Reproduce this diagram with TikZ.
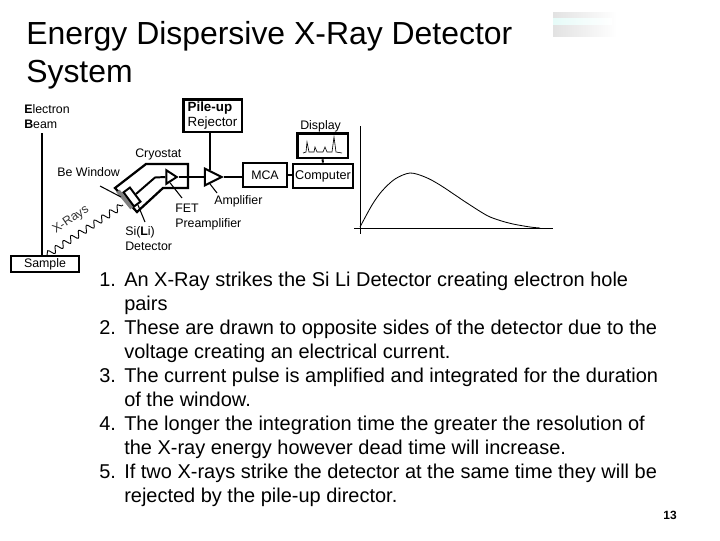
\documentclass[tikz,border=0pt]{standalone}
\usepackage{fontspec}
\setmainfont{Liberation Sans}
\setsansfont{Liberation Sans}
\usetikzlibrary{shapes.geometric,decorations.pathmorphing}
\definecolor{logog}{HTML}{E2E2E2}
\definecolor{logoc}{HTML}{E6FBF8}
\tikzset{
  titletxt/.style = {font=\fontsize{22.7}{27.4}\selectfont, align=left, inner sep=0pt, anchor=north west},
  itemtxt/.style  = {font=\fontsize{14.2}{17}\selectfont, align=left, inner sep=0pt, anchor=north west},
  lbl/.style      = {font=\fontsize{8.8}{10.8}\selectfont, inner sep=0pt, align=left},
  boxb/.style     = {draw=black, line width=2pt, inner sep=0pt},
  wire/.style     = {draw=black, line width=2pt},
  leader/.style   = {draw=black, line width=0.75pt},
  amptri/.style   = {isosceles triangle, isosceles triangle stretches=true, draw=black,
                     line width=1.4pt, inner sep=0pt, fill=white},
}
\begin{document}
\begin{tikzpicture}[x=0.025cm,y=-0.025cm]
  \useasboundingbox (0,0) rectangle (720,540);

  % title and logo
  \node[titletxt] (title) at (26,21) {Energy Dispersive X-Ray Detector\\System};
  \shade[left color=logog, right color=white, draw=none] (553,12) rectangle (617,36);
  \shade[left color=logoc, right color=white, draw=none] (553,18) rectangle (612,24);

  % sample and beam
  \node[lbl, anchor=north west] (beamlbl) at (24,104) {\textbf{E}lectron\\\textbf{B}eam};
  \node[boxb, minimum width=1.7cm, minimum height=0.4cm, font=\fontsize{8.8}{10}\selectfont] (sample) at (45,264) {Sample};
  \coordinate (beamtop) at (42,133);
  \draw[wire] (beamtop) -- (beamtop |- sample.north);
  \coordinate (rayfrom) at (47,255);
  \coordinate (rayto) at (123,205);
  \draw[black, line width=0.65pt, decorate, decoration={snake, amplitude=2.3pt, segment length=6.6pt}] (rayfrom) -- (rayto);
  \node[lbl, rotate=34, text=black!80] (rays) at (71,220) {X-Rays};

  % cryostat
  \draw[wire, line width=1.6pt] (115,188) -- (146,164) -- (188,164) -- (188,188) -- (163,188) -- (137,212) -- cycle;
  \draw[gray, line width=3pt] (118,191) -- (132,208);
  \node[draw=black, line width=1.4pt, fill=white, rotate=-53, minimum width=0.44cm, minimum height=0.2cm, inner sep=0pt] (detector) at (132,197) {};
  \node[amptri, minimum width=0.34cm, minimum height=0.26cm] (fet) at (170,177) {};
  \node[amptri, minimum width=0.42cm, minimum height=0.42cm] (amp) at (210,177) {};
  \coordinate (bend) at (155,177.5);
  \draw[wire, line width=1.4pt] (detector.north) -- (bend) -- (fet.west);
  \draw[wire] (fet.east) -- (amp.west);

  % boxes
  \node[boxb, font=\fontsize{9.5}{10.6}\selectfont, align=left, minimum width=1.47cm, minimum height=0.82cm] (pileup) at (212.5,115.5) {\textbf{Pile-up}\\Rejector};
  \node[boxb, line width=1.4pt, font=\fontsize{8.8}{10}\selectfont, minimum width=1.1cm, minimum height=0.6cm] (mca) at (265,175) {MCA};
  \node[boxb, font=\fontsize{9}{10}\selectfont, minimum width=1.5cm, minimum height=0.6cm] (computer) at (323,176) {Computer};
  \node[boxb, minimum width=1.27cm, minimum height=0.62cm] (display) at (322.5,145.5) {};
  \draw[wire] (pileup.south -| amp.center) -- (amp.center |- amp.north);
  \draw[wire] (amp.east) -- (amp.east -| mca.west);
  \draw[wire] (mca.east) -- (mca.east -| computer.west);
  \draw[wire, line width=1.4pt] (display.south) -- (computer.north);
  \draw[black, line width=0.45pt] (303,153) -- (306,152) -- (307,142) -- (309,152) -- (314,152) -- (315,147) -- (317,152) -- (323,152) -- (325,147) -- (327,152) -- (332,152) -- (334,137) -- (336,152) -- (342,153);

  % labels round the diagram
  \node[lbl, anchor=west] (cryolbl) at (135,154) {Cryostat};
  \node[lbl, anchor=west] (belbl) at (57,172) {Be Window};
  \node[lbl, anchor=north west] (silbl) at (125,226) {Si(\textbf{L}i)\\Detector};
  \node[lbl, anchor=north west] (fetlbl) at (175,204) {FET\\Preamplifier};
  \node[lbl, anchor=west] (amplbl) at (214,201) {Amplifier};
  \node[lbl, anchor=west] (displbl) at (300,126) {Display};
  \coordinate (beto) at (121,197);
  \coordinate (beoff) at (100,186);
  \draw[leader] (beoff) -- (beto);
  \coordinate (sito) at (145,222);
  \draw[leader] (detector.east) -- (sito);
  \coordinate (fetto) at (182,198);
  \draw[leader] (fet.south) -- (fetto);
  \coordinate (ampto) at (217,193);
  \draw[leader] (amp.south) -- (ampto);

  % spectrum
  \draw[black, line width=0.6pt] (360,126) -- (360,234);
  \draw[black, line width=0.6pt] (354,228) -- (553,228);
  \draw[black, line width=0.6pt] plot[smooth] coordinates {(360,227) (372,205) (382,191) (395,179) (410,173) (425,177) (440,185) (467,203) (487,215.5) (500,220.5) (513,224) (530,227) (540,228)};

  % steps
  \foreach \num/\ypos/\txt in {
    1/272/{An X-Ray strikes the Si Li Detector creating electron hole\\pairs},
    2/320/{These are drawn to opposite sides of the detector due to the\\voltage creating an electrical current.},
    3/368/{The current pulse is amplified and integrated for the duration\\of the window.},
    4/416/{The longer the integration time the greater the resolution of\\the X-ray energy however dead time will increase.},
    5/464/{If two X-rays strike the detector at the same time they will be\\rejected by the pile-up director.}}{
    \node[itemtxt] (item\num) at (124,\ypos) {\llap{\makebox[0.625cm][l]{\num.}}\txt};
  }

  % page number
  \node[font=\fontsize{8.5}{10}\selectfont\bfseries, inner sep=0pt] (page) at (670,515) {13};
\end{tikzpicture}
\end{document}
